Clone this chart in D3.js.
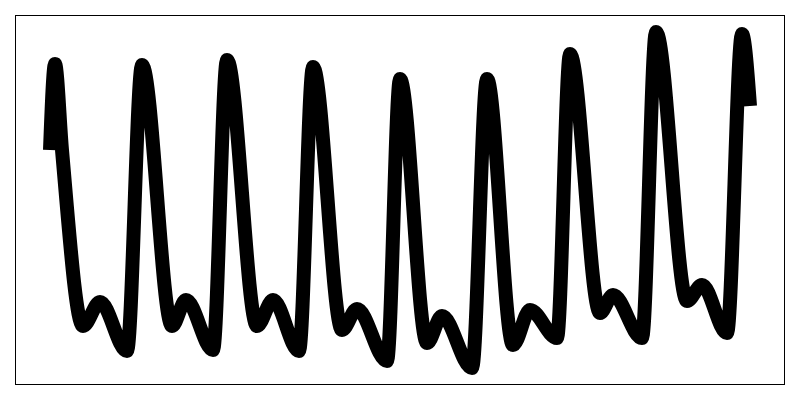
<!DOCTYPE html>
<html>
<head>
<meta charset="utf-8">
<script src="https://cdn.jsdelivr.net/npm/d3@7"></script>
<style>
  html, body { margin: 0; padding: 0; background: #fff; }
  svg { display: block; }
</style>
</head>
<body>
<script>
// Time values (sample positions)
const times = [0, 5, 12, 33, 50, 77, 92, 122, 136, 163, 177, 207, 223, 249, 263, 292, 307, 337, 350,
  377, 392, 422, 437, 463, 480, 507, 520, 550, 563, 592, 606, 637, 652, 677, 692, 700];
// Signal values
const values = [235, 321, 235, 59, 83, 34, 320, 59, 85, 35, 325, 59, 85, 34, 318, 55, 76, 24, 306,
  42, 69, 17, 306, 40, 75, 47, 331, 72, 90, 47, 353, 84, 100, 52, 351, 279];

const W = 800, H = 400;
const svg = d3.select("body").append("svg").attr("width", W).attr("height", H);

svg.append("rect")
  .attr("x", 15.5).attr("y", 15.5)
  .attr("width", 769).attr("height", 369)
  .attr("fill", "none").attr("stroke", "#000").attr("stroke-width", 1);

const x = d3.scaleLinear().domain([0, 700]).range([50, 750]);
const y = d3.scaleLinear().domain([0, 350]).range([385, 35]);

const data = times.map((t, i) => ({ t, v: values[i] }));

const line = d3.line()
  .x(d => x(d.t))
  .y(d => y(d.v))
  .curve(d3.curveMonotoneX);

svg.append("path")
  .datum(data)
  .attr("d", line)
  .attr("fill", "none")
  .attr("stroke", "#000")
  .attr("stroke-width", 14)
  .attr("stroke-linecap", "butt")
  .attr("stroke-linejoin", "miter");
</script>
</body>
</html>
